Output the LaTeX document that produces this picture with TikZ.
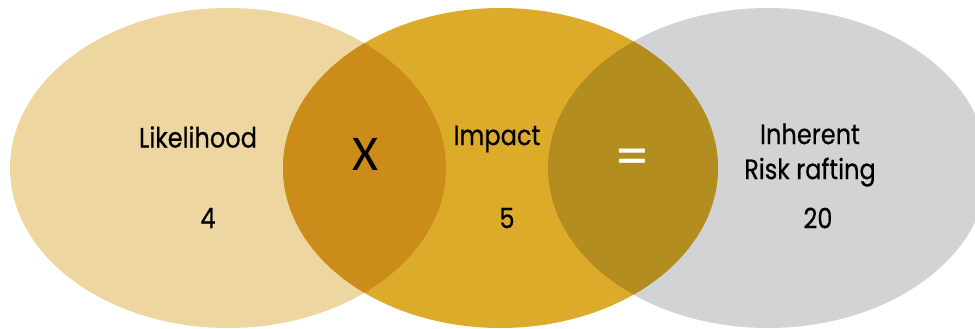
\documentclass[tikz,border=0pt]{standalone}
\usepackage{fontspec}
\setmainfont{Poppins}
\newfontfamily\lblfont{Poppins}[FakeBold=0.5, FakeStretch=0.86]
\newfontfamily\opfont{Carlito}
\definecolor{cLeft}{HTML}{EDD69F}
\definecolor{cMid}{HTML}{DBAB29}
\definecolor{cRight}{HTML}{D2D3D5}
\definecolor{cLensA}{HTML}{CC8C19}
\definecolor{cLensB}{HTML}{B38D20}
\tikzset{
  lbl/.style={font=\lblfont\fontsize{28}{35}\selectfont, text=black, inner sep=0pt, align=center},
  op/.style={font=\opfont\fontsize{50}{50}\selectfont, inner sep=0pt}
}
\begin{document}
\begin{tikzpicture}[x=1pt,y=-1pt]
\useasboundingbox (0,0) rectangle (975,329);
\clip (0,0) rectangle (975,329);
% ellipses
\fill[cLeft] (228,168) ellipse [x radius=218, y radius=160];
\fill[cRight] (768,168) ellipse [x radius=220, y radius=160];
\fill[cMid] (500.5,168) ellipse [x radius=217.5, y radius=160];
\begin{scope}
  \clip (228,168) ellipse [x radius=218, y radius=160];
  \fill[cLensA] (500.5,168) ellipse [x radius=217.5, y radius=160];
\end{scope}
\begin{scope}
  \clip (768,168) ellipse [x radius=220, y radius=160];
  \fill[cLensB] (500.5,168) ellipse [x radius=217.5, y radius=160];
\end{scope}
% texts
\node[lbl] (like) at (198,137) {Likelihood};
\node[lbl] (four) at (208,218) {4};
\node[op] (times) at (365,154) {X};
\node[lbl] (imp) at (497,139) {Impact};
\node[lbl] (five) at (507,218) {5};
\node[op, text=white, font=\opfont\fontsize{64}{64}\selectfont] (eq) at (632,163) {=};
\node[lbl] (inh) at (810,155) {Inherent\\Risk rafting};
\node[lbl] (twenty) at (818,218) {20};
\end{tikzpicture}
\end{document}
